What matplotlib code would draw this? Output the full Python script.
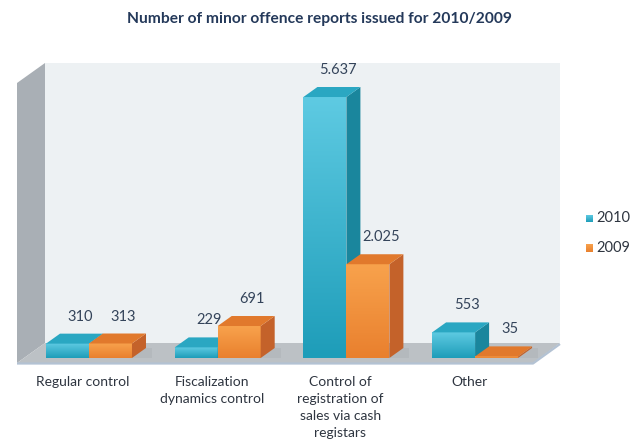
import numpy as np
import matplotlib.pyplot as plt
from matplotlib.patches import Polygon
from matplotlib.colors import LinearSegmentedColormap

# data
categories = ["Regular control", "Fiscalization\ndynamics control",
              "Control of\nregistration of\nsales via cash\nregistars", "Other"]
series_names = ["2010", "2009"]
values_2010 = [310, 229, 5637, 553]
values_2009 = [313, 691, 2025, 35]

# pixel layout of the pseudo-3D scene
W, H = 630, 444
GROUP_PX = 128.7          # distance between category groups
X0_PX = 89                # front centre of the first group
Y0_PX = 358               # front floor line (value 0)
UNIT_PX = 0.0463          # pixels per report
BAR_W = 0.334             # bar width in category units
BAR_DEPTH = (14, 10)      # bar depth offset in pixels (right, up)

series = [
    dict(vals=values_2010, front=("#5ECAE2", "#1E9DB9"), side="#1A869D",
         top="#2AA7C2", offset=-BAR_W),
    dict(vals=values_2009, front=("#F8A24C", "#E9802E"), side="#C4622A",
         top="#E1792C", offset=0.0),
]

fig = plt.figure(figsize=(W / 100, H / 100), dpi=100)
ax = fig.add_axes([0, 0, 1, 1])
ax.set_axis_off()


def to_data(xp, yp):
    """pixel (from top-left) -> data coords"""
    return (xp - X0_PX) / GROUP_PX, (Y0_PX - yp) / UNIT_PX


def shift(dx_px, dy_px):
    return dx_px / GROUP_PX, dy_px / UNIT_PX


def poly(pts_px, **kw):
    ax.add_patch(Polygon([to_data(*p) for p in pts_px], closed=True, **kw))


# walls and floor
poly([(17, 83), (45, 63), (45, 343), (17, 363)], facecolor="#A9AFB5",
     edgecolor="none", zorder=1)
poly([(45, 63), (560, 63), (560, 343), (45, 343)], facecolor="#EDF1F3",
     edgecolor="none", zorder=1)
poly([(17, 363), (45, 343), (560, 343), (533, 363)], facecolor="#BCC1C5",
     edgecolor="none", zorder=1)
ax.plot(*zip(*[to_data(17, 363.5), to_data(533, 363.5), to_data(560, 344)]),
        color="#B3C2D3", lw=1.6, zorder=1.5, solid_capstyle="butt")

ddx, ddy = shift(*BAR_DEPTH)
grad = np.linspace(0, 1, 64).reshape(-1, 1)

for i in range(len(categories)):
    for s in series:
        v = s["vals"][i]
        l = i + s["offset"]
        r = l + BAR_W
        # soft shadow on the floor behind the bar
        sx, sy = shift(6, 0)
        ax.add_patch(Polygon([(l + sx, 0), (r + ddx + sx, 0), (r + ddx + sx, ddy),
                              (l + ddx + sx, ddy)], facecolor="#A7ACB0",
                             edgecolor="none", zorder=2, alpha=0.35))
        # front face with vertical gradient
        cmap = LinearSegmentedColormap.from_list("f", [s["front"][1], s["front"][0]])
        ax.imshow(grad, extent=[l, r, 0, v], origin="lower", aspect="auto",
                  cmap=cmap, zorder=3, interpolation="bilinear")
        # right side and top face
        ax.add_patch(Polygon([(r, 0), (r + ddx, ddy), (r + ddx, v + ddy), (r, v)],
                             facecolor=s["side"], edgecolor="none", zorder=3))
        ax.add_patch(Polygon([(l, v), (l + ddx, v + ddy), (r + ddx, v + ddy), (r, v)],
                             facecolor=s["top"], edgecolor="none", zorder=3))
        # value label
        ax.text((l + r) / 2 + 13 / GROUP_PX, v + ddy + 17 / UNIT_PX,
                f"{v:,}".replace(",", "."), ha="center", va="center",
                fontsize=10.5, color="#34445A", family="Lato", zorder=4)

# category labels
for i, name in enumerate(categories):
    ax.text(i - 6 / GROUP_PX, to_data(0, 376)[1], name, ha="center", va="top",
            fontsize=10, color="#2E3540", family="Lato", linespacing=1.5)

# legend
for k, (name, s) in enumerate(zip(series_names, series)):
    yk = 218 + 30 * k
    cmap = LinearSegmentedColormap.from_list("f", [s["front"][1], s["front"][0]])
    (x1, y1), (x2, y2) = to_data(586, yk + 4), to_data(593, yk - 3)
    ax.imshow(grad, extent=[x1, x2, y1, y2], origin="lower", aspect="auto",
              cmap=cmap, zorder=4, interpolation="bilinear")
    ax.text(*to_data(596, yk), name, ha="left", va="center", fontsize=10.5,
            color="#2E3540", family="Lato")

ax.text(*to_data(319, 19), "Number of minor offence reports issued for 2010/2009",
        ha="center", va="center", fontsize=11.2, fontweight="bold",
        color="#24395A", family="Lato")

ax.set_xlim(-X0_PX / GROUP_PX, (W - X0_PX) / GROUP_PX)
ax.set_ylim(-(H - Y0_PX) / UNIT_PX, Y0_PX / UNIT_PX)

fig.savefig("out.png", dpi=100, facecolor="white")
